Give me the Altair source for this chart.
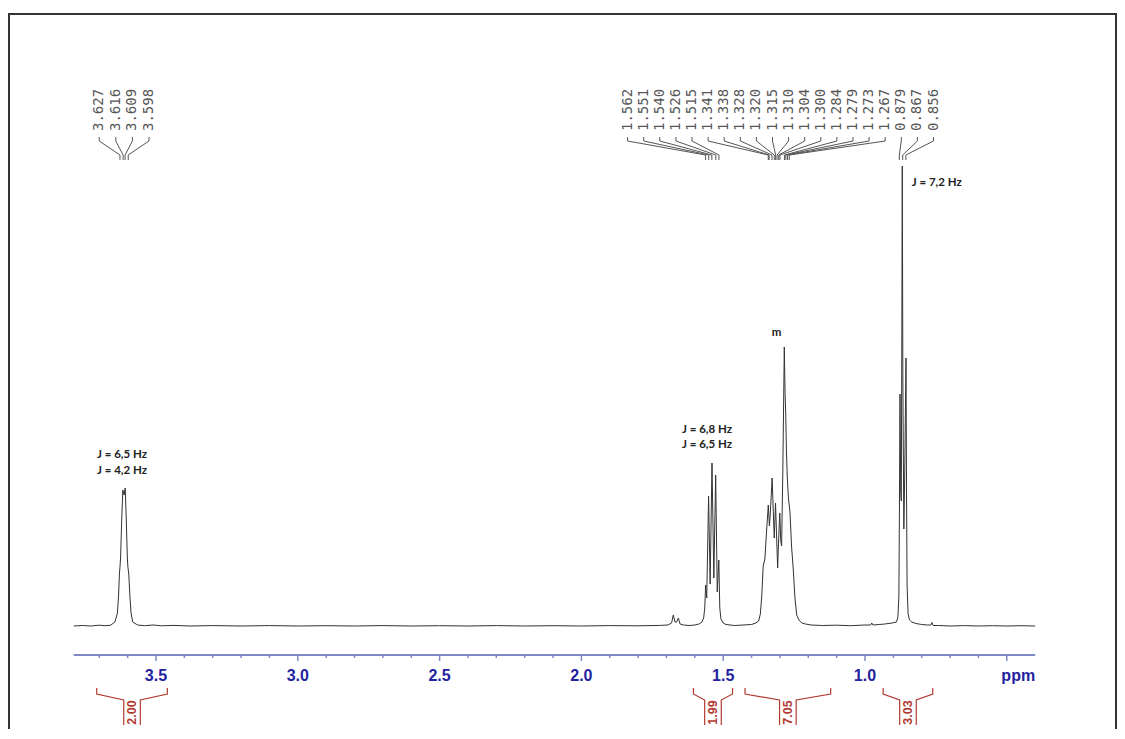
import altair as alt
import pandas as pd

# ---------------- data ----------------
# spectrum trace: chemical shift (ppm) and intensity (arbitrary units, baseline = 0)
trace_ppm = [
    3.790, 3.760, 3.730, 3.700, 3.680,
    3.660, 3.645, 3.636, 3.632, 3.629, 3.627, 3.625, 3.621, 3.617, 3.6125, 3.6085,
    3.605, 3.601, 3.599, 3.596, 3.592, 3.588, 3.582, 3.565,
    3.540, 3.510, 3.480, 3.440, 3.380, 3.300, 3.200, 3.100, 3.000, 2.900, 2.800,
    2.700, 2.600, 2.500, 2.400, 2.300, 2.200, 2.100, 2.000, 1.900, 1.800, 1.720, 1.695,
    1.682, 1.676, 1.670, 1.664, 1.658, 1.652, 1.640, 1.620, 1.600, 1.585,
    1.575, 1.569, 1.565, 1.562, 1.558, 1.5515, 1.546, 1.5395, 1.533, 1.5265, 1.521,
    1.5155, 1.512, 1.508, 1.500, 1.490,
    1.460, 1.430, 1.400, 1.385,
    1.375, 1.369, 1.364, 1.359, 1.353, 1.347, 1.341, 1.337, 1.334, 1.3275, 1.323,
    1.320, 1.3155, 1.311, 1.308, 1.304, 1.3005, 1.297, 1.294, 1.290, 1.2846, 1.282,
    1.2796, 1.277, 1.274, 1.270, 1.2645, 1.259, 1.2528, 1.247, 1.2408, 1.233, 1.223,
    1.210, 1.190,
    1.150, 1.100, 1.050, 1.000, 0.980, 0.976, 0.972, 0.950, 0.930,
    0.905, 0.889, 0.884, 0.8805, 0.8785, 0.8766, 0.8740, 0.8720, 0.8700, 0.8685,
    0.8665, 0.8630, 0.8600, 0.8554, 0.8535, 0.8515, 0.8480, 0.8430, 0.835, 0.820,
    0.800, 0.780, 0.768, 0.764, 0.760, 0.740, 0.700, 0.650, 0.600, 0.550, 0.500,
    0.450, 0.400,
]
trace_int = [
    0.0, 0.5, 0.0, 0.8, 0.3,
    0.8, 4, 13, 30, 52, 59, 68, 105, 136, 131, 138,
    108, 68, 59, 52, 30, 13, 4, 1.0,
    0.3, 1.0, 0.2, 0.6, 0.0, 0.4, 0.0, 0.4, 0.0, 0.3, 0.0,
    0.4, 0.0, 0.3, 0.0, 0.4, 0.0, 0.3, 0.0, 0.4, 0.2, 0.6, 1.0,
    3, 11, 4, 4, 8, 2, 1.0, 0.5, 1.0, 2.0,
    4, 8, 18, 41, 28, 130, 42, 163, 48, 151, 34,
    66, 18, 7, 3, 1.5,
    0.5, 1.0, 1.5, 3,
    5, 12, 30, 60, 67, 95, 121, 100, 112, 148, 112,
    88, 123, 84, 58, 90, 113, 85, 80, 150, 279, 235,
    213, 175, 149, 128, 114, 80, 56, 28, 11, 6, 3,
    2, 1,
    0.5, 0.8, 0.3, 1.0, 1.0, 3, 1.0, 1.5, 2,
    3, 4, 9, 30, 120, 232, 135, 125, 300, 460,
    250, 97, 150, 268, 130, 40, 12, 6, 4, 2.5,
    1.5, 1.0, 1.0, 3.5, 0.5, 0.5, 0.0, 0.4, 0.0, 0.3, 0.0,
    0.3, 0.0,
]

peak_labels_left = ["3.627", "3.616", "3.609", "3.598"]
peak_labels_right = ["1.562", "1.551", "1.540", "1.526", "1.515", "1.341", "1.338",
                     "1.328", "1.320", "1.315", "1.310", "1.304", "1.300", "1.284",
                     "1.279", "1.273", "1.267", "0.879", "0.867", "0.856"]

integral_start = [3.709, 1.605, 1.423, 0.936]
integral_end = [3.460, 1.467, 1.121, 0.761]
integral_values = ["2.00", "1.99", "7.05", "3.03"]

axis_range = [3.79, 0.40]
major_ticks = [3.5, 3.0, 2.5, 2.0, 1.5, 1.0, 0.5]
minor_ticks = [3.7, 3.6, 3.4, 3.3, 3.2, 3.1, 2.9, 2.8, 2.7, 2.6, 2.4, 2.3, 2.2, 2.1,
               1.9, 1.8, 1.7, 1.6, 1.4, 1.3, 1.2, 1.1, 0.9, 0.8, 0.7, 0.6]
tick_labels = ["3.5", "3.0", "2.5", "2.0", "1.5", "1.0"]
tick_label_values = [3.5, 3.0, 2.5, 2.0, 1.5, 1.0]

annotation_text = ["J = 6,5 Hz", "J = 4,2 Hz", "J = 6,8 Hz", "J = 6,5 Hz", "m", "J = 7,2 Hz"]
annotation_ppm = [3.620, 3.620, 1.557, 1.557, 1.312, 0.747]
annotation_int = [171, 155, 196, 181, 293, 443]

# ---------------- layout ----------------
W, H = 1107, 716
PX_PER_PPM = 283.6
X_LEFT, X_RIGHT = 4.0148, 0.1114
Y_TOP = 613
Y_BOTTOM = Y_TOP - H

xs = alt.Scale(domain=[X_RIGHT, X_LEFT], reverse=True, nice=False, zero=False)
ys = alt.Scale(domain=[Y_BOTTOM, Y_TOP], nice=False, zero=False)

AXIS_Y = -29
LABEL_Y = -50
AXIS_COLOR = "#8088c6"
LABEL_COLOR = "#23239f"
RED = "#b23a30"
GREY = "#555555"


def X(field="ppm"):
    return alt.X(f"{field}:Q", scale=xs, axis=None)


def Y(field="y"):
    return alt.Y(f"{field}:Q", scale=ys, axis=None)


# frame
frame = alt.Chart(pd.DataFrame({"a": [0]})).mark_rect(
    filled=False, stroke="#333333", strokeWidth=2
).encode(x=alt.value(-1), x2=alt.value(W - 1), y=alt.value(1), y2=alt.value(H + 40))

# spectrum
spec_df = pd.DataFrame({"ppm": trace_ppm, "y": trace_int, "order": range(len(trace_ppm))})
spectrum = alt.Chart(spec_df).mark_line(color="#333333", strokeWidth=1).encode(
    x=X(), y=Y(), order="order:Q"
)

# axis line
axis_df = pd.DataFrame({"ppm": [axis_range[0]], "ppm2": [axis_range[1]], "y": [AXIS_Y]})
axis_line = alt.Chart(axis_df).mark_rule(color=AXIS_COLOR, strokeWidth=2).encode(
    x=X(), x2="ppm2:Q", y=Y()
)

tick_df = pd.DataFrame(
    {"ppm": major_ticks + minor_ticks,
     "y": [AXIS_Y] * (len(major_ticks) + len(minor_ticks)),
     "y2": [AXIS_Y - 6] * len(major_ticks) + [AXIS_Y - 3] * len(minor_ticks)}
)
ticks = alt.Chart(tick_df).mark_rule(color=AXIS_COLOR, strokeWidth=1.5).encode(
    x=X(), y=Y(), y2="y2:Q"
)

tl_df = pd.DataFrame({"ppm": tick_label_values, "y": [LABEL_Y] * len(tick_labels), "t": tick_labels})
tick_text = alt.Chart(tl_df).mark_text(
    font="Liberation Sans", fontSize=16, fontWeight="bold", color=LABEL_COLOR,
    align="center", baseline="middle"
).encode(x=X(), y=Y(), text="t:N")

ppm_df = pd.DataFrame({"ppm": [axis_range[1]], "y": [LABEL_Y], "t": ["ppm"]})
ppm_text = alt.Chart(ppm_df).mark_text(
    font="Liberation Sans", fontSize=16, fontWeight="bold", color=LABEL_COLOR,
    align="right", baseline="middle"
).encode(x=X(), y=Y(), text="t:N")

# peak labels and connectors
lab_rows = []
con_rows = []
LAB_Y0, C1, C2, C3, C4 = 495, 489, 485, 471, 466
for group, spacing_px in ((peak_labels_left, 16.6), (peak_labels_right, 16.1)):
    vals = [float(v) for v in group]
    center = sum(vals) / len(vals)
    n = len(vals)
    sp = spacing_px / PX_PER_PPM
    for i, (lab, v) in enumerate(zip(group, vals)):
        lx = center + ((n - 1) / 2 - i) * sp
        lab_rows.append({"ppm": lx, "y": LAB_Y0, "t": lab})
        for k, (px, py) in enumerate(((lx, C1), (lx, C2), (v, C3), (v, C4))):
            con_rows.append({"ppm": px, "y": py, "id": lab + str(len(lab_rows)), "k": k})

peak_text = alt.Chart(pd.DataFrame(lab_rows)).mark_text(
    font="DejaVu Sans Mono", fontSize=14, color=GREY, angle=270,
    align="left", baseline="middle"
).encode(x=X(), y=Y(), text="t:N")

connectors = alt.Chart(pd.DataFrame(con_rows)).mark_line(color=GREY, strokeWidth=1).encode(
    x=X(), y=Y(), detail="id:N", order="k:Q"
)

# integrals
B_TOP, B_END, B_IN_TOP, B_IN_BOT = -62, -68, -74, -99
INNER = 8.3 / PX_PER_PPM
br_rows = []
it_rows = []
for s, e, val in zip(integral_start, integral_end, integral_values):
    mid = (s + e) / 2
    for side, outer, inner in (("L", s, mid + INNER), ("R", e, mid - INNER)):
        for k, (px, py) in enumerate(((outer, B_TOP), (outer, B_END), (inner, B_IN_TOP), (inner, B_IN_BOT))):
            br_rows.append({"ppm": px, "y": py, "id": val + side, "k": k})
    it_rows.append({"ppm": mid, "y": (B_IN_TOP + B_IN_BOT) / 2, "t": val})

brackets = alt.Chart(pd.DataFrame(br_rows)).mark_line(color=RED, strokeWidth=1.2).encode(
    x=X(), y=Y(), detail="id:N", order="k:Q"
)
int_text = alt.Chart(pd.DataFrame(it_rows)).mark_text(
    font="Liberation Sans Narrow, Liberation Sans", fontSize=12.5, fontWeight="bold",
    color=RED, angle=270, align="center", baseline="middle"
).encode(x=X(), y=Y(), text="t:N")

# annotations
ann_df = pd.DataFrame({"ppm": annotation_ppm, "y": annotation_int, "t": annotation_text})
ann = alt.Chart(ann_df).mark_text(
    font="Lato", fontSize=11.5, fontWeight="bold", color="#222222",
    align="center", baseline="middle"
).encode(x=X(), y=Y(), text="t:N")

chart = alt.layer(
    frame, spectrum, axis_line, ticks, tick_text, ppm_text,
    connectors, peak_text, brackets, int_text, ann
).properties(
    width=W, height=H,
    padding={"left": 2, "top": 5, "right": 0, "bottom": 0},
    autosize=alt.AutoSizeParams(type="none"),
).configure_view(strokeWidth=0)

chart.save("out.html", embed_options={"renderer": "svg", "actions": False})
